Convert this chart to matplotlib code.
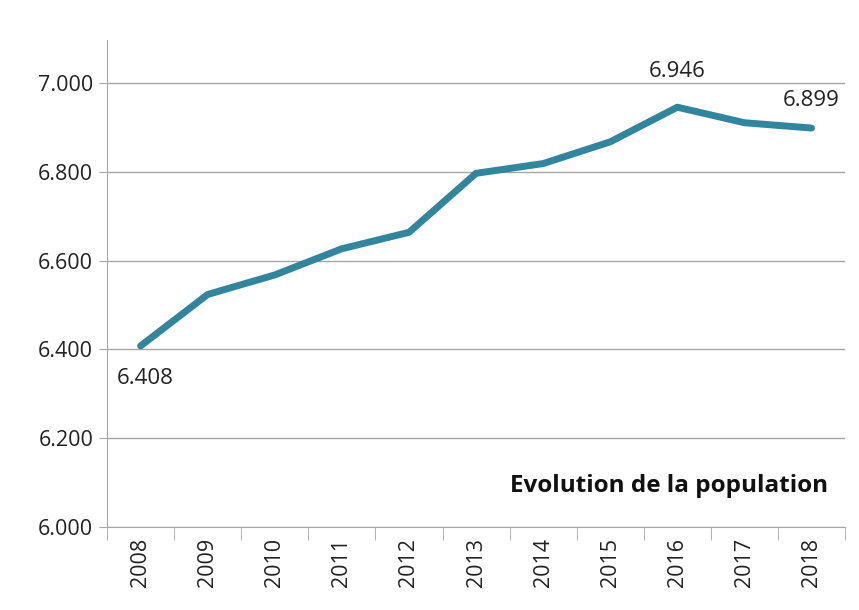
import matplotlib.pyplot as plt
import numpy as np

years = ['2008', '2009', '2010', '2011', '2012', '2013', '2014', '2015', '2016', '2017', '2018']
population = [6.408, 6.524, 6.568, 6.627, 6.664, 6.797, 6.819, 6.868, 6.946, 6.911, 6.899]
# index -> (label, vertical offset in points)
labelled = {0: ('6.408', -16), 8: ('6.946', 18), 10: ('6.899', 12)}

plt.rcParams['font.family'] = ['Open Sans', 'DejaVu Sans']

fig = plt.figure(figsize=(8.59, 6.10), dpi=100)
ax = fig.add_axes([0.1246, 0.1361, 0.8592, 0.798])

x = np.arange(len(years))
ax.plot(x, population, color='#31859C', lw=5, solid_capstyle='round', solid_joinstyle='round', zorder=3)

for i, (txt, dy) in labelled.items():
    ax.annotate(txt, (x[i], population[i]), xytext=(3 if dy < 0 else 0, dy), textcoords='offset points',
                ha='center', va='top' if dy < 0 else 'bottom', fontsize=16, color='#222222')

ax.set_xlim(-0.5, len(years) - 0.5)
ax.set_ylim(6.0, 7.097)
yt = np.arange(6.0, 7.01, 0.2)
ax.set_yticks(yt)
ax.set_yticklabels([f'{v:.3f}' for v in yt], fontsize=15.5, color='#222222')
ax.yaxis.grid(True, color='#A6A6A6', lw=1)
ax.set_axisbelow(True)

ax.set_xticks(x)
ax.set_xticklabels(years, rotation=90, fontsize=15.5, color='#222222')
ax.set_xticks(np.arange(-0.5, len(years), 1), minor=True)
ax.tick_params(axis='x', which='major', length=0, pad=8)
ax.tick_params(axis='x', which='minor', length=9, color='#A6A6A6')
ax.tick_params(axis='y', length=6, color='#A6A6A6', pad=4)

for s in ['top', 'right']:
    ax.spines[s].set_visible(False)
for s in ['left', 'bottom']:
    ax.spines[s].set_color('#A6A6A6')

ax.text(0.977, 0.084, 'Evolution de la population', transform=ax.transAxes,
        ha='right', va='center', fontsize=17.5, fontweight='bold', color='#111111')

fig.savefig('out.png', dpi=100)
